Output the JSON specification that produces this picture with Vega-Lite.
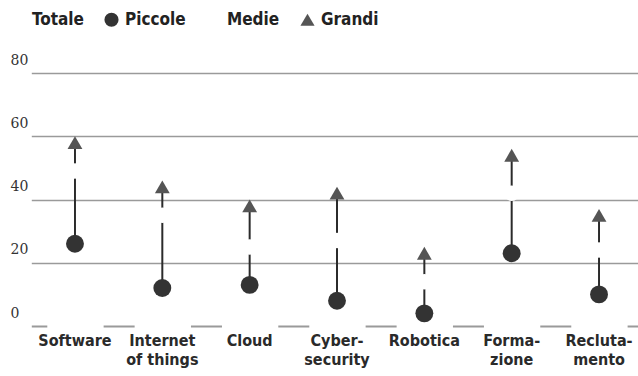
{
  "$schema": "https://vega.github.io/schema/vega-lite/v6.json",
  "width": 633,
  "height": 253,
  "autosize": {"type": "none"},
  "padding": {"left": 5, "top": 73, "right": 0, "bottom": 50},
  "background": "white",
  "config": {"view": {"stroke": null}, "font": "DejaVu Sans Condensed"},
  "data": {
    "values": [
      {"cat": "Software", "serie": "Piccole", "value": 26},
      {"cat": "Software", "serie": "Medie", "value": 49},
      {"cat": "Software", "serie": "Grandi", "value": 58},
      {"cat": "Internet of things", "serie": "Piccole", "value": 12},
      {"cat": "Internet of things", "serie": "Medie", "value": 35},
      {"cat": "Internet of things", "serie": "Grandi", "value": 44},
      {"cat": "Cloud", "serie": "Piccole", "value": 13},
      {"cat": "Cloud", "serie": "Medie", "value": 25},
      {"cat": "Cloud", "serie": "Grandi", "value": 38},
      {"cat": "Cybersecurity", "serie": "Piccole", "value": 8},
      {"cat": "Cybersecurity", "serie": "Medie", "value": 27},
      {"cat": "Cybersecurity", "serie": "Grandi", "value": 42},
      {"cat": "Robotica", "serie": "Piccole", "value": 4},
      {"cat": "Robotica", "serie": "Medie", "value": 14},
      {"cat": "Robotica", "serie": "Grandi", "value": 23},
      {"cat": "Formazione", "serie": "Piccole", "value": 23},
      {"cat": "Formazione", "serie": "Medie", "value": 42},
      {"cat": "Formazione", "serie": "Grandi", "value": 54},
      {"cat": "Reclutamento", "serie": "Piccole", "value": 10},
      {"cat": "Reclutamento", "serie": "Medie", "value": 24},
      {"cat": "Reclutamento", "serie": "Grandi", "value": 35}
    ]
  },
  "encoding": {
    "x": {
      "field": "cat",
      "type": "nominal",
      "sort": null,
      "scale": {"range": [26.3, 637.7], "paddingInner": 0, "paddingOuter": 0},
      "axis": {
        "title": null,
        "orient": "bottom",
        "ticks": false,
        "domain": true,
        "domainColor": "#9a9a9a",
        "domainWidth": 2,
        "domainDash": [31, 56.33],
        "domainDashOffset": 15.5,
        "labelAngle": 0,
        "labelPadding": 6,
        "labelFont": "DejaVu Sans Condensed",
        "labelFontWeight": "bold",
        "labelFontSize": 16,
        "labelColor": "#2a2a2a",
        "labelLineHeight": 19,
        "labelBaseline": "top",
        "labelExpr": "datum.value == 'Internet of things' ? ['Internet', 'of things'] : datum.value == 'Cybersecurity' ? ['Cyber-', 'security'] : datum.value == 'Formazione' ? ['Forma-', 'zione'] : datum.value == 'Reclutamento' ? ['Recluta-', 'mento'] : datum.value"
      }
    }
  },
  "layer": [
    {
      "mark": {"type": "rule", "color": "#2b2b2b", "strokeWidth": 2},
      "encoding": {
        "y": {
          "aggregate": "min",
          "field": "value",
          "type": "quantitative",
          "scale": {"domain": [0, 80], "nice": false},
          "axis": {
            "title": null,
            "values": [0, 20, 40, 60, 80],
            "ticks": false,
            "domain": false,
            "grid": true,
            "gridColor": "#9a9a9a",
            "gridWidth": 1.5,
            "gridOpacity": {"condition": {"test": "datum.value === 0", "value": 0}, "value": 1},
            "labelAlign": "left",
            "labelBaseline": "bottom",
            "labelPadding": -5,
            "labelOffset": -6,
            "labelFont": "DejaVu Serif",
            "labelFontSize": 14,
            "labelColor": "#333333"
          }
        },
        "y2": {"aggregate": "max", "field": "value"}
      }
    },
    {
      "mark": {"type": "point", "filled": true, "opacity": 1, "strokeWidth": 0},
      "encoding": {
        "y": {"field": "value", "type": "quantitative"},
        "shape": {
          "field": "serie",
          "type": "nominal",
          "scale": {"domain": ["Totale", "Piccole", "Medie", "Grandi"], "range": ["circle", "circle", "circle", "triangle-up"]},
          "legend": {
            "title": null,
            "orient": "none",
            "legendX": 5,
            "legendY": -62,
            "direction": "horizontal",
            "columnPadding": 19,
            "symbolSize": 200,
            "symbolStrokeWidth": 0,
            "labelFont": "DejaVu Sans Condensed",
            "labelFontWeight": "bold",
            "labelFontSize": 17,
            "labelColor": "#222222",
            "labelOffset": 5
          }
        },
        "fill": {
          "field": "serie",
          "type": "nominal",
          "scale": {"domain": ["Totale", "Piccole", "Medie", "Grandi"], "range": ["#ffffff", "#333333", "#ffffff", "#555555"]}
        },
        "size": {
          "condition": [
            {"test": "datum.serie === 'Piccole'", "value": 320},
            {"test": "datum.serie === 'Medie'", "value": 240}
          ],
          "value": 220
        }
      }
    }
  ]
}
